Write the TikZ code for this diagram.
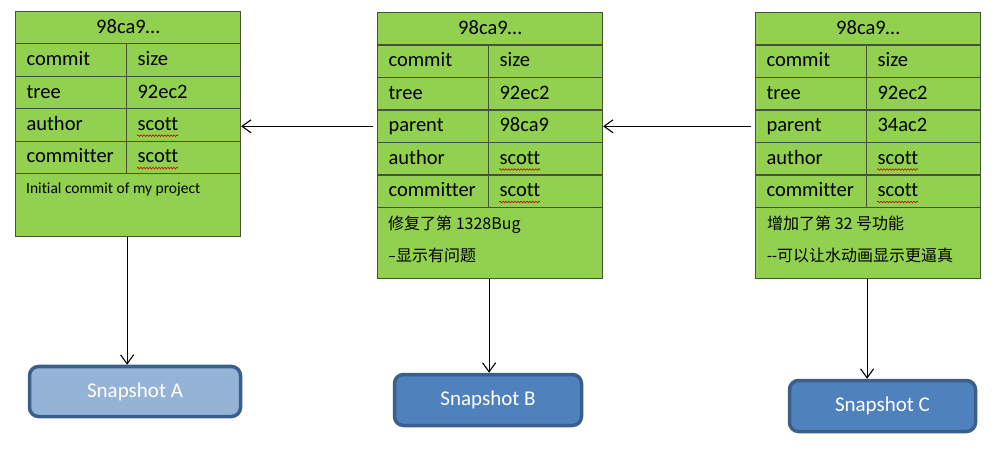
\documentclass[tikz,border=0pt]{standalone}
\usepackage{fontspec}
\setmainfont[Ligatures=NoCommon]{Carlito}
\newfontfamily\cjk{Noto Sans CJK SC}
\usetikzlibrary{arrows.meta,decorations.pathmorphing}

\definecolor{cellgreen}{HTML}{92D050}
\definecolor{cellline}{HTML}{47523C}
\definecolor{snaplight}{HTML}{95B3D7}
\definecolor{snapdark}{HTML}{4F81BD}
\definecolor{snapline}{HTML}{3A5F8C}

\tikzset{
  cell/.style={draw=cellline, line width=1.1pt, fill=cellgreen, anchor=north west,
    minimum height=32.5, inner ysep=0pt, text height=14pt, text depth=3pt,
    font=\fontsize{20.5}{24}\selectfont},
  head/.style={cell, inner xsep=0pt, minimum width=225},
  key/.style={cell, inner xsep=11pt, text width=89pt, align=left},
  val/.style={cell, inner xsep=11pt, text width=92pt, align=left},
  msg/.style={cell, inner xsep=0pt, minimum width=225},
  note/.style={anchor=base west, inner sep=0pt, font=\fontsize{15.5}{18}\selectfont},
  cnote/.style={anchor=base west, inner sep=0pt, font=\cjk\fontsize{16}{19}\selectfont},
  snap/.style={draw=snapline, line width=3.5pt, rounded corners=9pt, text=white,
    font=\fontsize{21}{25}\selectfont},
  link/.style={-{Straight Barb[length=9pt,width=13pt]}, line width=1.1pt},
  squiggle/.style={red!80!black, line width=0.6pt,
    decorate, decoration={snake, segment length=3pt, amplitude=0.8pt}}
}

\begin{document}
\begin{tikzpicture}[x=1pt,y=-1pt]
\useasboundingbox (0,0) rectangle (1005,457);

% first commit
\node[head] (a-head) at (15,11) {98ca9…};
\node[key] (a-k1) at (15,43.4) {commit};
\node[val] (a-v1) at (126,43.4) {size};
\node[key] (a-k2) at (15,75.8) {tree};
\node[val] (a-v2) at (126,75.8) {92ec2};
\node[key] (a-k3) at (15,108.2) {author};
\node[val] (a-v3) at (126,108.2) {scott};
\node[key] (a-k4) at (15,140.6) {committer};
\node[val] (a-v4) at (126,140.6) {scott};
\node[msg, minimum height=63] (a-msg) at (15,173) {};
\node[note] (a-note) at (26,194) {Initial commit of my project};

% second commit
\node[head] (b-head) at (377,12) {98ca9…};
\node[key] (b-k1) at (377,44.5) {commit};
\node[val] (b-v1) at (488,44.5) {size};
\node[key] (b-k2) at (377,77) {tree};
\node[val] (b-v2) at (488,77) {92ec2};
\node[key] (b-k3) at (377,109.5) {parent};
\node[val] (b-v3) at (488,109.5) {98ca9};
\node[key] (b-k4) at (377,142) {author};
\node[val] (b-v4) at (488,142) {scott};
\node[key] (b-k5) at (377,174.5) {committer};
\node[val] (b-v5) at (488,174.5) {scott};
\node[msg, minimum height=71] (b-msg) at (377,207) {};
\node[cnote] (b-note1) at (388,230) {修复了第 1328Bug};
\node[cnote] (b-note2) at (388,262) {{\rmfamily –}显示有问题};

% third commit
\node[head] (c-head) at (755,12) {98ca9…};
\node[key] (c-k1) at (755,44.5) {commit};
\node[val] (c-v1) at (866,44.5) {size};
\node[key] (c-k2) at (755,77) {tree};
\node[val] (c-v2) at (866,77) {92ec2};
\node[key] (c-k3) at (755,109.5) {parent};
\node[val] (c-v3) at (866,109.5) {34ac2};
\node[key] (c-k4) at (755,142) {author};
\node[val] (c-v4) at (866,142) {scott};
\node[key] (c-k5) at (755,174.5) {committer};
\node[val] (c-v5) at (866,174.5) {scott};
\node[msg, minimum height=71] (c-msg) at (755,207) {};
\node[cnote] (c-note1) at (767,230) {增加了第 32 号功能};
\node[cnote] (c-note2) at (767,262) {{\rmfamily -{}-}可以让水动画显示更逼真};

% spell check marks
\draw[squiggle] ([xshift=11pt,yshift=-27.5pt]a-v3.north west) -- ++(41,0);
\draw[squiggle] ([xshift=11pt,yshift=-27.5pt]a-v4.north west) -- ++(41,0);
\draw[squiggle] ([xshift=11pt,yshift=-27.5pt]b-v4.north west) -- ++(41,0);
\draw[squiggle] ([xshift=11pt,yshift=-27.5pt]b-v5.north west) -- ++(41,0);
\draw[squiggle] ([xshift=11pt,yshift=-27.5pt]c-v4.north west) -- ++(41,0);
\draw[squiggle] ([xshift=11pt,yshift=-27.5pt]c-v5.north west) -- ++(41,0);

% snapshots
\node[snap, fill=snaplight, minimum width=211, minimum height=50] (snapA) at (135,391.5) {Snapshot A};
\node[snap, fill=snapdark, minimum width=187, minimum height=51] (snapB) at (488,400) {Snapshot B};
\node[snap, fill=snapdark, minimum width=186, minimum height=51] (snapC) at (882.5,406) {Snapshot C};

% parents
\draw[link, shorten <=4pt] (b-k3.west) -- (b-k3.west -| a-v3.east);
\draw[link, shorten <=4pt] (c-k3.west) -- (c-k3.west -| b-v3.east);

% trees
\draw[link] (a-msg.south -| a-k1.east) -- (a-k1.east |- snapA.north);
\draw[link] (b-msg.south -| b-k1.east) -- (b-k1.east |- snapB.north);
\draw[link] (c-msg.south -| c-k1.east) -- (c-k1.east |- snapC.north);
\end{tikzpicture}
\end{document}
